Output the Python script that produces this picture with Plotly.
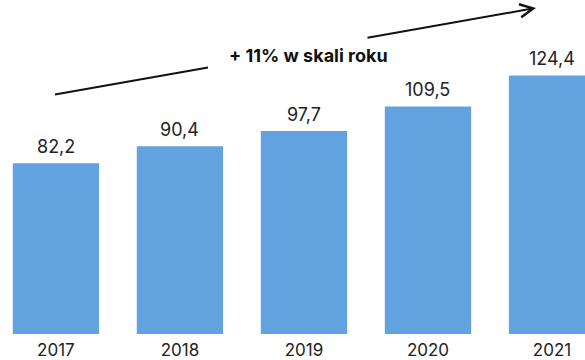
import plotly.graph_objects as go

# Annual values (PLN bn) by year
years = ["2017", "2018", "2019", "2020", "2021"]
values = [82.2, 90.4, 97.7, 109.5, 124.4]
growth_label = "+ 11% w skali roku"

BAR_COLOR = "#62A3DF"
TEXT_COLOR = "#222222"
FONT = "Inter, Lato, sans-serif"

fig = go.Figure(
    go.Bar(
        x=years,
        y=values,
        marker=dict(color=BAR_COLOR, line=dict(width=0)),
        hoverinfo="skip",
    )
)

# Value labels above each bar, decimal comma
# (category axis: annotations are placed by category index)
for i, v in enumerate(values):
    fig.add_annotation(
        x=i, y=v, xref="x", yref="y",
        text=f"{v:.1f}".replace(".", ","),
        showarrow=False, yanchor="middle", yshift=17,
        font=dict(family=FONT, size=18, color=TEXT_COLOR),
    )

# Growth trend arrow, split around the caption
fig.add_shape(
    type="line", xref="paper", yref="paper",
    x0=55 / 585, y0=1 - 95 / 336, x1=208 / 585, y1=1 - 68 / 336,
    line=dict(color="#111111", width=2),
)
fig.add_annotation(
    xref="paper", yref="paper",
    x=536 / 585, y=1 - 8 / 336, ax=-170, ay=30,
    text="", showarrow=True, arrowhead=5, arrowsize=1.3, arrowwidth=2,
    arrowcolor="#111111", standoff=0, startstandoff=0,
)
fig.add_annotation(
    xref="paper", yref="paper", x=308 / 585, y=1 - 56 / 336,
    text=f"<b>{growth_label}</b>", showarrow=False,
    xanchor="center", yanchor="middle",
    font=dict(family=FONT, size=18, color="#111111"),
)

fig.update_layout(
    width=585, height=360,
    margin=dict(l=0, r=0, t=0, b=24, pad=0),
    paper_bgcolor="white", plot_bgcolor="white",
    bargap=0.304,
    showlegend=False,
    font=dict(family=FONT, color=TEXT_COLOR),
    xaxis=dict(
        type="category", range=[-0.451, 4.266],
        showgrid=False, zeroline=False, showline=False, ticks="",
        tickfont=dict(family=FONT, size=17, color=TEXT_COLOR),
        ticklabelstandoff=4,
        fixedrange=True,
    ),
    yaxis=dict(
        range=[0, 160.8], visible=False, fixedrange=True,
    ),
)

fig.write_html("out.html", config={"displayModeBar": False})
